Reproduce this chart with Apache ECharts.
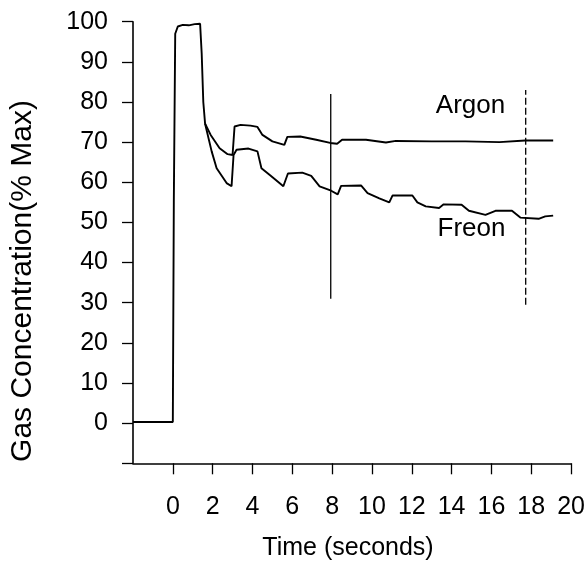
<!DOCTYPE html>
<html>
<head>
<meta charset="utf-8">
<script src="https://cdn.jsdelivr.net/npm/echarts@6/dist/echarts.min.js"></script>
<style>
html,body{margin:0;padding:0;background:#fff;}
#chart{width:588px;height:581px;}
</style>
</head>
<body>
<div id="chart"></div>
<script>
// ---- data (time in seconds, concentration in % max) ----
const xTicks = [0, 2, 4, 6, 8, 10, 12, 14, 16, 18, 20];
const yTicks = [0, 10, 20, 30, 40, 50, 60, 70, 80, 90, 100];

const argonData = [
  [-2, 0.3], [0, 0.3], [0.05, 55], [0.12, 97], [0.25, 98.8], [0.5, 99.2], [0.8, 99.1],
  [1.1, 99.4], [1.37, 99.5], [1.45, 92], [1.53, 80], [1.62, 74.6],
  [1.9, 71.8], [2.35, 68.5], [2.75, 67.0], [3.0, 66.8], [3.1, 73.9], [3.4, 74.3],
  [3.9, 74.1], [4.25, 73.8], [4.5, 71.8], [5.0, 70.2], [5.6, 69.3], [5.75, 71.3],
  [6.4, 71.4], [7.2, 70.6], [7.9, 69.8], [8.25, 69.6], [8.5, 70.6], [9.7, 70.6],
  [10.7, 69.9], [11.2, 70.3], [13.0, 70.2], [14.7, 70.2], [16.4, 70.0],
  [17.7, 70.4], [19.1, 70.4]
];

const freonData = [
  [1.62, 74.6], [1.95, 67.7], [2.2, 63.5], [2.7, 59.8], [2.95, 59.0], [3.05, 66.8],
  [3.2, 68.1], [3.8, 68.4], [4.25, 67.7], [4.45, 63.5], [4.9, 61.7], [5.55, 59.0],
  [5.78, 62.2], [6.5, 62.4], [6.95, 61.6], [7.37, 59.0], [7.95, 57.9], [8.28, 57.0],
  [8.45, 59.1], [9.45, 59.2], [9.78, 57.3], [10.37, 56.0], [10.87, 55.0],
  [11.03, 56.7], [12.03, 56.7], [12.28, 55.0], [12.7, 54.0], [13.37, 53.6],
  [13.6, 54.5], [14.5, 54.4], [14.87, 52.9], [15.7, 51.9], [16.2, 52.9],
  [17.03, 52.9], [17.45, 51.2], [18.37, 50.9], [18.7, 51.5], [19.1, 51.7]
];

const marker1 = [[7.93, 31], [7.93, 82]];
const marker2 = [[17.72, 29.5], [17.72, 83]];

const seriesLabels = [
  { name: 'Argon', value: [14.95, 79.1] },
  { name: 'Freon', value: [15.0, 48.4] }
];

const xTitle = 'Time (seconds)';
const yTitle = 'Gas Concentration(% Max)';

const FONT = '"Liberation Sans", Arial, sans-serif';

const chart = echarts.init(document.getElementById('chart'), null, { renderer: 'canvas' });

const lineStyle = { color: '#000', width: 1.9 };

chart.setOption({
  animation: false,
  backgroundColor: '#fff',
  grid: { left: 133, right: 15.3, top: 21.7, bottom: 117.7, containLabel: false },
  xAxis: {
    type: 'value', min: -2, max: 20, interval: 2,
    axisLine: { onZero: false, lineStyle: { color: '#000', width: 1.6 } },
    axisTick: { length: 11, lineStyle: { color: '#000', width: 1.3 }, customValues: xTicks },
    axisLabel: {
      customValues: xTicks,
      formatter: v => (v < 0 ? '' : String(v)),
      color: '#000', fontSize: 25, fontFamily: FONT, margin: 31
    },
    splitLine: { show: false }
  },
  yAxis: {
    type: 'value', min: -10, max: 100, interval: 10,
    axisLine: { show: true, onZero: false, lineStyle: { color: '#000', width: 1.6 } },
    axisTick: { show: true, length: 11, lineStyle: { color: '#000', width: 1.3 } },
    axisLabel: {
      formatter: v => (v < 0 ? '' : String(v)),
      color: '#000', fontSize: 25, fontFamily: FONT, margin: 25
    },
    splitLine: { show: false }
  },
  graphic: [
    {
      type: 'text', x: 23, y: 281, rotation: Math.PI / 2,
      style: { text: yTitle, fill: '#000', font: '30px ' + FONT, align: 'center', verticalAlign: 'middle' }
    },
    {
      type: 'text', x: 348, y: 548,
      style: { text: xTitle, fill: '#000', font: '25px ' + FONT, align: 'center', verticalAlign: 'middle' }
    }
  ],
  series: [
    { type: 'line', data: argonData, showSymbol: false, lineStyle: lineStyle, z: 3 },
    { type: 'line', data: freonData, showSymbol: false, lineStyle: lineStyle, z: 3 },
    { type: 'line', data: marker1, showSymbol: false, lineStyle: { color: '#000', width: 1.3 } },
    { type: 'line', data: marker2, showSymbol: false, lineStyle: { color: '#000', width: 1.3, type: [7, 3] } },
    {
      type: 'scatter', data: seriesLabels, symbolSize: 0,
      itemStyle: { opacity: 1 },
      label: {
        show: true, position: 'inside', formatter: p => p.name,
        color: '#000', opacity: 1, fontSize: 26, fontFamily: FONT
      }
    }
  ]
});
</script>
</body>
</html>
